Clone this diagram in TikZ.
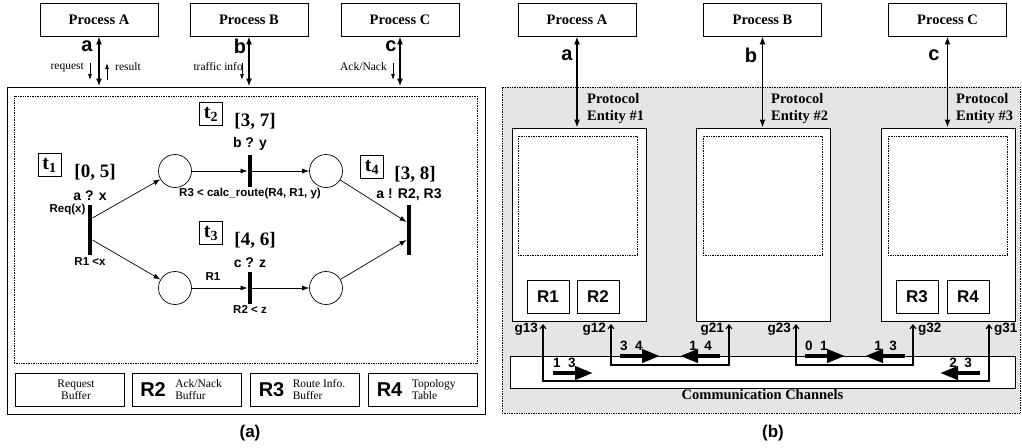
\documentclass[tikz,border=0pt]{standalone}
\usepackage{fontspec}
\setmainfont{Liberation Serif}
\setsansfont{Liberation Sans}
\usetikzlibrary{arrows,arrows.meta,positioning}

\begin{document}
\begin{tikzpicture}[x=1pt, y=-1pt, node distance=2pt, auto]
\tikzset{
	procnode/.style={rectangle, draw=black, line width=0.8pt, minimum width=118pt, minimum height=33pt, inner sep=0pt, font=\fontsize{14.5}{17}\selectfont\bfseries},
	framebox/.style={rectangle, draw=black, line width=1pt, inner sep=0pt},
	dotbox/.style={rectangle, draw=black, densely dotted, line width=0.7pt, inner sep=0pt},
	place/.style={circle, draw=black, line width=0.7pt, minimum size=33pt, inner sep=0pt},
	trans/.style={rectangle, fill=black, inner sep=0pt, minimum width=4.5pt},
	tbox/.style={rectangle, draw=black, line width=0.7pt, inner sep=1pt, minimum width=23pt, minimum height=23pt, font=\fontsize{20}{20}\selectfont\bfseries},
	interval/.style={inner sep=0pt, font=\fontsize{19}{19}\selectfont\bfseries},
	guard/.style={inner sep=0pt, font=\fontsize{14}{16}\selectfont\sffamily\bfseries},
	note/.style={inner sep=0pt, font=\fontsize{11.5}{13}\selectfont\sffamily\bfseries},
	channame/.style={inner sep=0pt, font=\fontsize{20}{20}\selectfont\sffamily\bfseries},
	msgtext/.style={inner sep=0pt, font=\fontsize{11.5}{13}\selectfont},
	bufbox/.style={rectangle, draw=black, line width=0.8pt, minimum width=109pt, minimum height=33pt, inner sep=0pt},
	buftext/.style={inner sep=0pt, align=left, font=\fontsize{11.5}{12}\selectfont},
	regname/.style={inner sep=0pt, font=\fontsize{20}{20}\selectfont\sffamily\bfseries},
	entity/.style={rectangle, draw=black, fill=white, line width=0.8pt, minimum width=134pt, minimum height=193pt, inner sep=0pt},
	entlabel/.style={inner sep=0pt, align=left, font=\fontsize{14.5}{17}\selectfont\bfseries},
	regbox/.style={rectangle, draw=black, line width=0.8pt, minimum width=42pt, minimum height=33pt, inner sep=0pt, font=\fontsize{17}{17}\selectfont\sffamily\bfseries},
	gatelabel/.style={inner sep=0pt, font=\fontsize{13.5}{15}\selectfont\sffamily\bfseries},
	caption/.style={inner sep=0pt, font=\fontsize{17}{17}\selectfont\sffamily\bfseries},
	chanarrow/.style={{Latex[length=8pt,width=6pt]}-{Latex[length=8pt,width=6pt]}, line width=1.6pt},
	msgarrow/.style={-{Latex[length=6pt,width=4pt]}, line width=0.8pt},
	arc/.style={-{Latex[length=7pt,width=5pt]}, line width=0.7pt},
	gateline/.style={{Straight Barb[length=4pt,width=6pt]}-{Straight Barb[length=4pt,width=6pt]}, line width=1.1pt},
	token/.style={-{Triangle[length=18pt,width=13pt]}, line width=4pt}
}
\useasboundingbox (0,0) rectangle (1022,447);

% (a) one protocol entity
\node[procnode] (procA) at (99,19.5) {Process A};
\node[procnode] (procB) at (249,19.5) {Process B};
\node[procnode] (procC) at (400,19.5) {Process C};
\node[framebox, minimum width=478pt, minimum height=327pt] (ctrl) at (246,250.5) {};
\node[dotbox, minimum width=463pt, minimum height=267pt] (net) at (245.5,229.5) {};

\draw[chanarrow] (procA.south) -- (procA.south |- ctrl.north);
\draw[chanarrow] (procB.south) -- (procB.south |- ctrl.north);
\draw[chanarrow] (procC.south) -- (procC.south |- ctrl.north);
\node[channame] (la) at (87,46) {a};
\node[channame] (lb) at (240,46) {b};
\node[channame] (lc) at (391,46) {c};

\coordinate (req) at (90,63);
\coordinate (res) at (107,80);
\coordinate (trf) at (242,63);
\coordinate (ack) at (393,63);
\draw[msgarrow] (req) -- ++(0,17);
\draw[msgarrow] (res) -- ++(0,-17);
\draw[msgarrow] (trf) -- ++(0,17);
\draw[msgarrow] (ack) -- ++(0,17);
\node[msgtext, anchor=east] at ([xshift=-6pt,yshift=-4pt]req) {request};
\node[msgtext, anchor=west] at ([xshift=8pt,yshift=13pt]res) {result};
\node[msgtext, anchor=east] at ([xshift=1pt,yshift=-4pt]trf) {traffic info};
\node[msgtext, anchor=east] at ([xshift=-6pt,yshift=-4pt]ack) {Ack/Nack};

% petri net
\node[trans, minimum height=50pt] (t1) at (90,230) {};
\node[place] (p1) at (175,171) {};
\node[place] (p2) at (175,288) {};
\node[trans, minimum height=32pt] (t2) at (250,171) {};
\node[trans, minimum height=32pt] (t3) at (250,288) {};
\node[place] (p3) at (326,171) {};
\node[place] (p4) at (326,288) {};
\node[trans, minimum height=50pt] (t4) at (409,230) {};

\draw[arc] ([yshift=12pt]t1.east) -- (p1);
\draw[arc] ([yshift=-10pt]t1.east) -- (p2);
\draw[arc] (p1) -- (t2.west);
\draw[arc] (t2.east) -- (p3);
\draw[arc] (p2) -- (t3.west);
\draw[arc] (t3.east) -- (p4);
\draw[arc] (p3) -- ([yshift=8pt]t4.west);
\draw[arc] (p4) -- ([yshift=-10pt]t4.west);

\node[tbox] (t1box) at (49.5,165) {t\textsubscript{1}};
\node[interval] (i1) at (95,172) {[0, 5]};
\node[tbox] (t2box) at (211,114) {t\textsubscript{2}};
\node[interval] (i2) at (255,121) {[3, 7]};
\node[tbox] (t3box) at (211,233) {t\textsubscript{3}};
\node[interval] (i3) at (255,240) {[4, 6]};
\node[tbox] (t4box) at (372,167) {t\textsubscript{4}};
\node[interval] (i4) at (415,174) {[3, 8]};

\node[guard, above=4pt of t1] (g1) {a ? x};
\node[note, anchor=east] (in1) at ([xshift=-2pt,yshift=-5pt]t1.north west) {Req(x)};
\node[note, below=2pt of t1] (out1) {R1 <x};
\node[guard, above=4pt of t2] (g2) {b ? y};
\node[note, below=1pt of t2] (out2) {R3 < calc\_route(R4, R1, y)};
\node[guard, above=4pt of t3] (g3) {c ? z};
\node[note] (in3) at (213,277) {R1};
\node[note, below=1pt of t3] (out3) {R2 < z};
\node[guard, above=4pt of t4] (g4) {a ! R2, R3};

% buffers
\node[bufbox] (buf1) at (69.5,389.5) {};
\node[buftext, align=center] at (76,389.5) {Request\\Buffer};
\node[bufbox] (buf2) at (187,389.5) {};
\node[regname, right=8pt of buf2.west] (r2) {R2};
\node[buftext, right=9pt of r2] {Ack/Nack\\Buffur};
\node[bufbox] (buf3) at (304.5,389.5) {};
\node[regname, right=9pt of buf3.west] (r3) {R3};
\node[buftext, right=8pt of r3] {Route Info.\\Buffer};
\node[bufbox] (buf4) at (422.5,389.5) {};
\node[regname, right=9pt of buf4.west] (r4) {R4};
\node[buftext, right=9pt of r4] {Topology\\Table};

\node[caption] (capa) at (250,433) {(a)};

% (b) three protocol entities
\node[rectangle, fill=gray!20, draw=black, densely dotted, line width=0.7pt, minimum width=518pt, minimum height=326pt] (sys) at (761,250) {};
\node[procnode] (procA2) at (577,19.5) {Process A};
\node[procnode] (procB2) at (762.5,19.5) {Process B};
\node[procnode] (procC2) at (947.5,19.5) {Process C};

\node[entity] (ent1) at (579,224.5) {};
\node[entity] (ent2) at (763,224.5) {};
\node[entity] (ent3) at (948.5,224.5) {};
\node[dotbox, minimum width=119pt, minimum height=119pt] (d1) at (577.5,195.5) {};
\node[dotbox, minimum width=119pt, minimum height=119pt] (d2) at (762.5,195.5) {};
\node[dotbox, minimum width=119pt, minimum height=119pt] (d3) at (947.5,195.5) {};

\draw[chanarrow] (procA2.south) -- (procA2.south |- ent1.north);
\draw[chanarrow] (procB2.south) -- (procB2.south |- ent2.north);
\draw[chanarrow] (procC2.south) -- (procC2.south |- ent3.north);
\node[channame] (la2) at (567,55) {a};
\node[channame] (lb2) at (751,55) {b};
\node[channame] (lc2) at (934,55) {c};

\node[entlabel, anchor=south west] (e1) at (587,124) {Protocol\\Entity \#1};
\node[entlabel, anchor=south west] (e2) at (771,124) {Protocol\\Entity \#2};
\node[entlabel, anchor=south west] (e3) at (956,124) {Protocol\\Entity \#3};

\node[regbox] (reg1) at (548,296.5) {R1};
\node[regbox] (reg2) at (598,296.5) {R2};
\node[regbox] (reg3) at (917,296.5) {R3};
\node[regbox] (reg4) at (968,296.5) {R4};

\node[bufbox, fill=white, minimum width=505pt, minimum height=32pt] (chan) at (762.5,372) {};
\node[entlabel, below=1pt of chan] (chanlbl) {Communication Channels};

\coordinate (g13) at (543,324);
\coordinate (g12) at (611,324);
\coordinate (g21) at (729,324);
\coordinate (g23) at (796,324);
\coordinate (g32) at (913,324);
\coordinate (g31) at (989,324);
\draw[gateline] (g12) -- ++(0,41) -| (g21);
\draw[gateline] (g23) -- ++(0,41) -| (g32);
\draw[gateline] (g13) -- ++(0,57) -| (g31);
\node[gatelabel, anchor=east] at ([xshift=-5pt,yshift=-5pt]g13) {g13};
\node[gatelabel, anchor=east] at ([xshift=-5pt,yshift=-5pt]g12) {g12};
\node[gatelabel, anchor=east] at ([xshift=-5pt,yshift=-5pt]g21) {g21};
\node[gatelabel, anchor=east] at ([xshift=-5pt,yshift=-5pt]g23) {g23};
\node[gatelabel, anchor=west] at ([xshift=5pt,yshift=-5pt]g32) {g32};
\node[gatelabel, anchor=west] at ([xshift=5pt,yshift=-5pt]g31) {g31};

% messages in transit
\coordinate (m34) at (620,356);
\coordinate (m14) at (720,356);
\coordinate (m01) at (805,356);
\coordinate (m13) at (905,356);
\coordinate (n13) at (553,373);
\coordinate (n23) at (980,373);
\draw[token] (m34) -- ++(40,0);
\draw[token] (m14) -- ++(-40,0);
\draw[token] (m01) -- ++(40,0);
\draw[token] (m13) -- ++(-40,0);
\draw[token] (n13) -- ++(40,0);
\draw[token] (n23) -- ++(-40,0);
\node[gatelabel, anchor=south west] at ([yshift=5pt]m34) {3~~4};
\node[gatelabel, anchor=south east] at ([xshift=-8pt,yshift=5pt]m14) {1~~4};
\node[gatelabel, anchor=south west] at ([yshift=5pt]m01) {0~~1};
\node[gatelabel, anchor=south east] at ([xshift=-8pt,yshift=5pt]m13) {1~~3};
\node[gatelabel, anchor=south west] at ([yshift=5pt]n13) {1~~3};
\node[gatelabel, anchor=south east] at ([xshift=-8pt,yshift=5pt]n23) {2~~3};

\node[caption] (capb) at (773,433) {(b)};

\end{tikzpicture}
\end{document}
